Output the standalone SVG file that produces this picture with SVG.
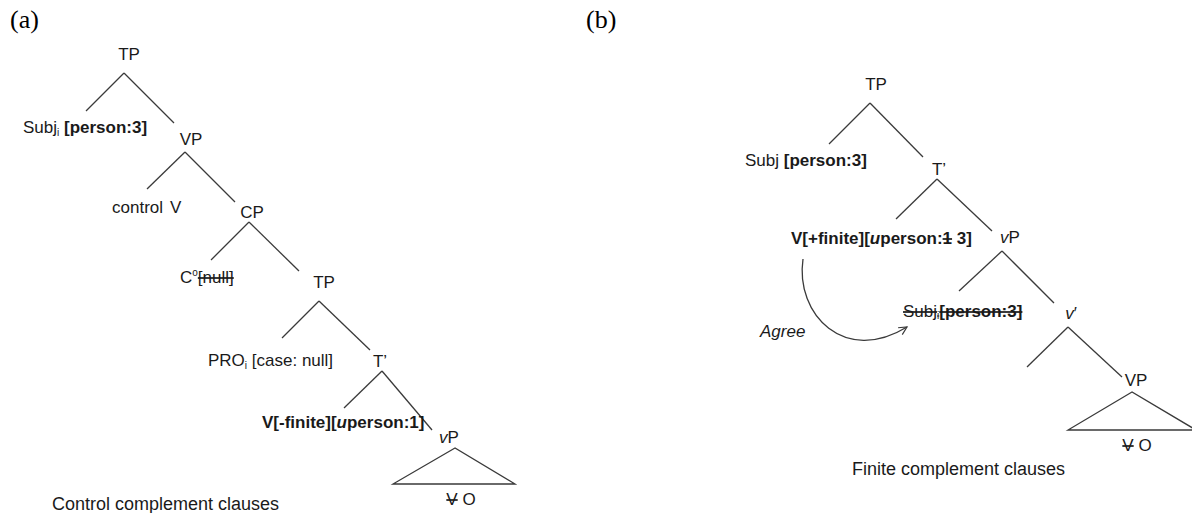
<svg xmlns="http://www.w3.org/2000/svg" width="1192" height="513" viewBox="0 0 1192 513">
<style>
text{font-family:"Liberation Sans",Arial,sans-serif;font-size:17px;fill:#1a1a1a}
.lbl{font-family:"Liberation Serif","Times New Roman",serif;font-size:26px;fill:#000}
.b{font-weight:bold}
.i{font-style:italic}
.s{text-decoration:line-through}
.sub{font-size:10px}
.cap{font-size:18px}
.ln{stroke:#3a3a3a;stroke-width:1.3;fill:none}
</style>
<defs>
<marker id="ah" markerWidth="12" markerHeight="12" refX="9" refY="5" orient="auto" markerUnits="userSpaceOnUse">
<polyline points="1,1 9,5 1,9" fill="none" stroke="#3a3a3a" stroke-width="1.2"/>
</marker>
</defs>
<rect width="1192" height="513" fill="#fff"/>
<text class="lbl" x="10" y="28">(a)</text>
<text class="lbl" x="586" y="28">(b)</text>
<g id="connectors">
<!-- (a) -->
<line class="ln" x1="124" y1="73" x2="86" y2="111"/>
<line class="ln" x1="124" y1="73" x2="174" y2="123"/>
<line class="ln" x1="185" y1="152" x2="147" y2="189"/>
<line class="ln" x1="185" y1="152" x2="235" y2="202"/>
<line class="ln" x1="249" y1="222" x2="211" y2="260"/>
<line class="ln" x1="249" y1="222" x2="299" y2="271"/>
<line class="ln" x1="319" y1="301" x2="282" y2="338"/>
<line class="ln" x1="319" y1="301" x2="370" y2="350"/>
<line class="ln" x1="382" y1="371" x2="344" y2="408"/>
<line class="ln" x1="382" y1="371" x2="432" y2="430"/>
<polygon class="ln" points="455,448 393,484 515,484"/>
<!-- (b) -->
<line class="ln" x1="870" y1="103" x2="829" y2="144"/>
<line class="ln" x1="870" y1="103" x2="923" y2="157"/>
<line class="ln" x1="937" y1="179" x2="896" y2="219"/>
<line class="ln" x1="937" y1="179" x2="992" y2="231"/>
<line class="ln" x1="1002" y1="251" x2="959" y2="291"/>
<line class="ln" x1="1002" y1="251" x2="1054" y2="303"/>
<line class="ln" x1="1068" y1="327" x2="1027" y2="367"/>
<line class="ln" x1="1068" y1="327" x2="1122" y2="377"/>
<polygon class="ln" points="1132,392 1068,430 1196,430"/>
<path class="ln" d="M803,259 C795,315 845,365 907,327" marker-end="url(#ah)"/>
</g>
<!-- (a) nodes -->
<g id="a-TP1"><text x="129" y="60" text-anchor="middle">TP</text></g>
<g id="a-Subj"><text x="23" y="133">Subj<tspan class="sub" dy="3">i</tspan><tspan dy="-3"> </tspan><tspan class="b">[person:3]</tspan></text></g>
<g id="a-VP"><text x="191" y="145" text-anchor="middle">VP</text></g>
<g id="a-controlV"><text x="112" y="213">control<tspan x="170">V</tspan></text></g>
<g id="a-CP"><text x="252" y="218" text-anchor="middle">CP</text></g>
<g id="a-C"><text x="180" y="283">C<tspan class="sub" dy="-7">o</tspan><tspan class="s" dy="7">[null]</tspan></text></g>
<g id="a-TP2"><text x="324" y="288" text-anchor="middle">TP</text></g>
<g id="a-PRO"><text x="208" y="366">PRO<tspan class="sub" dy="3">i</tspan><tspan dy="-3"> [case: null]</tspan></text></g>
<g id="a-Tbar"><text x="380" y="367" text-anchor="middle">T’</text></g>
<g id="a-V"><text x="262" y="428" class="b">V[-finite][<tspan class="i">u</tspan>person:1]</text></g>
<g id="a-vP"><text x="449" y="443" text-anchor="middle"><tspan class="i">v</tspan>P</text></g>
<g id="a-VO"><text x="461" y="505" text-anchor="middle"><tspan class="s">V</tspan> O</text></g>
<g id="a-caption"><text class="cap" x="52" y="510">Control complement clauses</text></g>
<!-- (b) nodes -->
<g id="b-TP"><text x="876" y="90" text-anchor="middle">TP</text></g>
<g id="b-Subj"><text x="745" y="166">Subj <tspan class="b">[person:3]</tspan></text></g>
<g id="b-Tbar"><text x="939" y="175" text-anchor="middle">T’</text></g>
<g id="b-V"><text x="791" y="244" class="b">V[+finite][<tspan class="i">u</tspan>person:<tspan class="s">1</tspan> 3]</text></g>
<g id="b-vP"><text x="1010" y="243" text-anchor="middle"><tspan class="i">v</tspan>P</text></g>
<g id="b-Subj2"><text x="903" y="317" class="s">Subj<tspan class="sub" dy="2">i</tspan><tspan class="b" dy="-2">[person:3]</tspan></text></g>
<g id="b-vbar"><text x="1071" y="319" text-anchor="middle"><tspan class="i">v</tspan>′</text></g>
<g id="b-Agree"><text x="760" y="337" class="i">Agree</text></g>
<g id="b-VP"><text x="1136" y="386" text-anchor="middle">VP</text></g>
<g id="b-VO"><text x="1137" y="451" text-anchor="middle"><tspan class="s">V</tspan> O</text></g>
<g id="b-caption"><text class="cap" x="852" y="475">Finite complement clauses</text></g>
</svg>
